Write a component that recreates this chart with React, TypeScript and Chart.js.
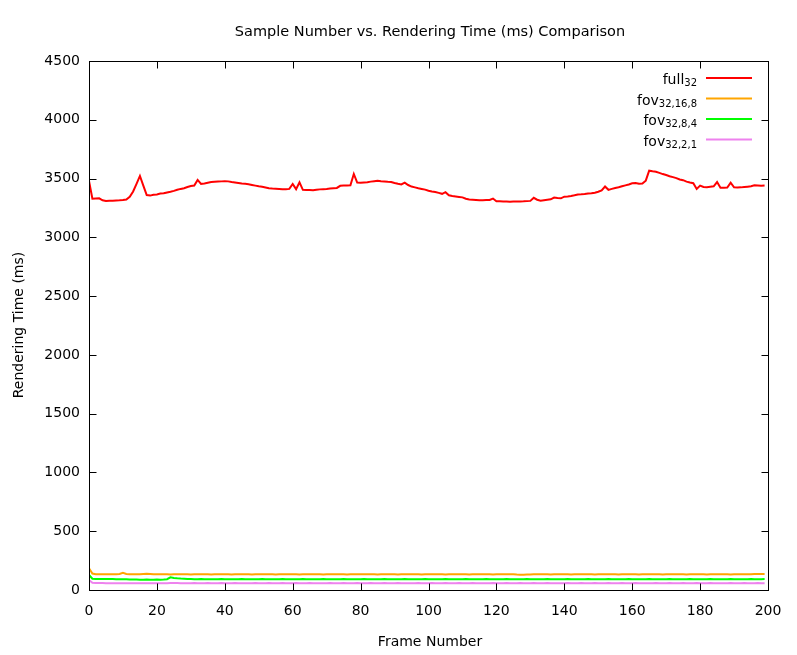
import React, { useEffect, useRef } from "react";
import { Chart, registerables } from "chart.js";

Chart.register(...registerables);

const TITLE = "Sample Number vs. Rendering Time (ms) Comparison";
const X_TITLE = "Frame Number";
const Y_TITLE = "Rendering Time (ms)";
const X_TICKS = [0, 20, 40, 60, 80, 100, 120, 140, 160, 180, 200];
const Y_TICKS = [0, 500, 1000, 1500, 2000, 2500, 3000, 3500, 4000, 4500];

const SERIES_NAMES = [
  { base: "full", sub: "32" },
  { base: "fov", sub: "32,16,8" },
  { base: "fov", sub: "32,8,4" },
  { base: "fov", sub: "32,2,1" },
];
const SERIES_COLORS = ["#ff0000", "#ffa500", "#00ff00", "#ee82ee"];

const full32 = [
  3480, 3328, 3330, 3332, 3315, 3310, 3312, 3312, 3314, 3315,
  3318, 3322, 3345, 3390, 3455, 3522, 3440, 3360, 3355, 3362,
  3365, 3372, 3375, 3382, 3388, 3395, 3405, 3412, 3418, 3428,
  3436, 3440, 3488, 3455, 3458, 3465, 3470, 3472, 3474, 3476,
  3478, 3476, 3470, 3466, 3462, 3458, 3455, 3452, 3446, 3440,
  3434, 3430, 3424, 3418, 3415, 3414, 3412, 3410, 3410, 3412,
  3454, 3410, 3468, 3404, 3403, 3402, 3400, 3404, 3408, 3410,
  3412, 3416, 3418, 3420, 3438, 3440, 3440, 3442, 3539, 3466,
  3464, 3467, 3468, 3474, 3478, 3482, 3478, 3475, 3472, 3470,
  3462, 3455, 3450, 3465, 3445, 3432, 3425, 3418, 3412, 3406,
  3396, 3390, 3386, 3378, 3370, 3384, 3358, 3352, 3348, 3344,
  3340, 3328, 3322, 3320, 3318, 3316, 3316, 3317, 3318, 3330,
  3307, 3306, 3305, 3304, 3303, 3304, 3304, 3305, 3306, 3308,
  3310, 3336, 3320, 3312, 3316, 3320, 3323, 3338, 3334, 3332,
  3346, 3348, 3352, 3358, 3365, 3366, 3368, 3372, 3375, 3380,
  3388, 3400, 3432, 3404, 3412, 3420, 3426, 3434, 3442, 3450,
  3460, 3462, 3455, 3458, 3482, 3567, 3562, 3558, 3548, 3538,
  3530, 3520, 3512, 3504, 3492, 3486, 3474, 3466, 3460, 3412,
  3440, 3428, 3426, 3430, 3434, 3470, 3422, 3422, 3424, 3465,
  3426, 3424, 3425, 3428, 3431, 3434, 3442, 3440, 3438, 3440,
];

const fov32_16_8 = [
  185, 140, 134, 133, 133, 133, 134, 133, 135, 137,
  147, 137, 134, 133, 133, 134, 136, 138, 136, 134,
  133, 133, 134, 133, 132, 133, 133, 134, 133, 133,
  132, 133, 133, 134, 133, 133, 132, 133, 134, 133,
  133, 133, 132, 133, 133, 134, 133, 133, 132, 133,
  133, 133, 134, 133, 133, 132, 133, 133, 134, 133,
  133, 133, 132, 133, 133, 134, 133, 133, 133, 132,
  133, 133, 134, 133, 133, 133, 132, 133, 134, 133,
  133, 133, 133, 134, 133, 132, 133, 133, 134, 133,
  133, 132, 133, 133, 133, 134, 133, 133, 132, 133,
  133, 134, 133, 133, 133, 132, 133, 133, 134, 133,
  133, 133, 132, 133, 133, 134, 133, 133, 133, 132,
  133, 133, 134, 133, 133, 133, 131, 130, 130, 131,
  132, 133, 134, 133, 133, 133, 132, 133, 134, 133,
  133, 133, 132, 133, 133, 134, 133, 133, 133, 132,
  133, 133, 134, 133, 133, 133, 132, 133, 134, 133,
  133, 133, 132, 133, 133, 134, 133, 133, 133, 132,
  133, 133, 134, 133, 133, 133, 132, 133, 134, 133,
  133, 133, 132, 133, 133, 134, 133, 133, 133, 132,
  133, 133, 134, 133, 134, 135, 136, 136, 137, 137,
];

const fov32_8_4 = [
  128, 96, 94, 93, 93, 94, 93, 93, 92, 92,
  92, 91, 90, 89, 89, 88, 88, 89, 88, 88,
  89, 88, 89, 92, 108, 102, 99, 97, 96, 94,
  93, 92, 92, 93, 92, 92, 91, 92, 92, 93,
  92, 92, 91, 92, 92, 93, 92, 92, 91, 92,
  92, 93, 92, 92, 91, 92, 92, 93, 92, 92,
  91, 92, 92, 93, 92, 92, 91, 92, 92, 93,
  92, 92, 91, 92, 92, 93, 92, 92, 91, 92,
  92, 93, 92, 92, 91, 92, 92, 93, 92, 92,
  91, 92, 92, 93, 92, 92, 91, 92, 92, 93,
  92, 92, 91, 92, 92, 93, 92, 92, 91, 92,
  92, 93, 92, 92, 91, 92, 92, 93, 92, 92,
  91, 92, 92, 93, 92, 92, 91, 92, 92, 93,
  92, 92, 91, 92, 92, 93, 92, 92, 91, 92,
  92, 93, 92, 92, 91, 92, 92, 93, 92, 92,
  91, 92, 92, 93, 92, 92, 91, 92, 92, 93,
  92, 92, 91, 92, 92, 93, 92, 92, 91, 92,
  92, 93, 92, 92, 91, 92, 92, 93, 92, 92,
  91, 92, 92, 93, 92, 92, 91, 92, 92, 93,
  92, 92, 91, 92, 92, 93, 92, 92, 92, 93,
];

const fov32_2_1 = [
  85, 62, 60, 59, 59, 58, 58, 58, 58, 58,
  58, 58, 57, 57, 57, 57, 57, 57, 57, 58,
  58, 58, 58, 58, 59, 59, 59, 58, 58, 58,
  58, 59, 58, 58, 58, 59, 58, 58, 58, 59,
  58, 58, 58, 59, 58, 58, 57, 58, 58, 59,
  58, 58, 58, 59, 58, 58, 58, 59, 58, 58,
  58, 59, 58, 58, 58, 59, 58, 58, 57, 58,
  58, 59, 58, 58, 58, 59, 58, 58, 58, 59,
  58, 58, 58, 59, 58, 58, 58, 59, 58, 58,
  58, 59, 58, 58, 57, 58, 58, 59, 58, 58,
  58, 59, 58, 58, 58, 59, 58, 58, 58, 59,
  58, 58, 58, 59, 58, 58, 57, 58, 58, 59,
  58, 58, 58, 59, 58, 58, 58, 59, 58, 58,
  58, 59, 58, 58, 58, 59, 58, 58, 57, 58,
  58, 59, 58, 58, 58, 59, 58, 58, 58, 59,
  58, 58, 58, 59, 58, 58, 58, 59, 58, 58,
  58, 59, 58, 58, 57, 58, 58, 59, 58, 58,
  58, 59, 58, 58, 58, 59, 58, 58, 58, 59,
  58, 58, 58, 59, 58, 58, 57, 58, 58, 59,
  58, 58, 58, 59, 58, 58, 58, 59, 58, 58,
];

const SERIES = [full32, fov32_16_8, fov32_8_4, fov32_2_1];
const FONT = "'DejaVu Sans', sans-serif";

const decorPlugin = {
  id: "gnuplotDecor",
  afterDatasetsDraw(chart: any) {
    const { ctx, chartArea } = chart;
    const xs = chart.scales.x;
    const ys = chart.scales.y;
    const L = Math.round(chartArea.left) + 0.5;
    const R = Math.round(chartArea.right) + 0.5;
    const T = Math.round(chartArea.top) + 0.5;
    const B = Math.round(chartArea.bottom) + 0.5;
    ctx.save();
    ctx.strokeStyle = "#000";
    ctx.lineWidth = 1;
    ctx.beginPath();
    const tl = 7;
    X_TICKS.forEach((v) => {
      const px = Math.round(xs.getPixelForValue(v)) + 0.5;
      ctx.moveTo(px, B);
      ctx.lineTo(px, B - tl);
      ctx.moveTo(px, T);
      ctx.lineTo(px, T + tl);
    });
    Y_TICKS.forEach((v) => {
      const py = Math.round(ys.getPixelForValue(v)) + 0.5;
      ctx.moveTo(L, py);
      ctx.lineTo(L + tl, py);
      ctx.moveTo(R, py);
      ctx.lineTo(R - tl, py);
    });
    ctx.stroke();
    ctx.strokeRect(L, T, R - L, B - T);

    // titles
    ctx.fillStyle = "#000";
    ctx.textAlign = "center";
    ctx.textBaseline = "alphabetic";
    ctx.font = `14.5px ${FONT}`;
    ctx.fillText(TITLE, 430, 36);
    ctx.font = `14px ${FONT}`;
    ctx.fillText(X_TITLE, 430, 646);
    ctx.save();
    ctx.translate(23, 325);
    ctx.rotate(-Math.PI / 2);
    ctx.fillText(Y_TITLE, 0, 0);
    ctx.restore();

    // legend
    const textRight = 697;
    const rowY = [78, 98.5, 119, 139.5];
    SERIES_NAMES.forEach((n, i) => {
      const y = rowY[i];
      ctx.font = `10px ${FONT}`;
      const subW = ctx.measureText(n.sub).width;
      ctx.textAlign = "left";
      ctx.fillText(n.sub, textRight - subW, y + 8);
      ctx.font = `14px ${FONT}`;
      ctx.textAlign = "right";
      ctx.fillText(n.base, textRight - subW, y + 6);
      ctx.strokeStyle = SERIES_COLORS[i];
      ctx.lineWidth = 2;
      ctx.beginPath();
      ctx.moveTo(706, y);
      ctx.lineTo(752, y);
      ctx.stroke();
    });
    ctx.restore();
  },
};

export default function App() {
  const ref = useRef<HTMLCanvasElement>(null);
  useEffect(() => {
    const canvas = ref.current!;
    const chart = new Chart(canvas, {
      type: "line",
      data: {
        datasets: SERIES.map((s, i) => ({
          label: SERIES_NAMES[i].base + SERIES_NAMES[i].sub,
          data: s.map((v, j) => ({ x: j, y: v })),
          borderColor: SERIES_COLORS[i],
          backgroundColor: SERIES_COLORS[i],
          borderWidth: 2,
          pointRadius: 0,
          tension: 0,
          fill: false,
        })),
      },
      plugins: [decorPlugin],
      options: {
        animation: false,
        responsive: false,
        maintainAspectRatio: false,
        layout: { padding: { top: 61, right: 29, left: 0, bottom: 0 } },
        plugins: { legend: { display: false }, title: { display: false }, tooltip: { enabled: false } },
        scales: {
          x: {
            type: "linear",
            min: 0,
            max: 200,
            afterFit: (s: any) => { s.height = 65; },
            afterBuildTicks: (s: any) => { s.ticks = X_TICKS.map((v) => ({ value: v })); },
            grid: { display: false, drawTicks: false },
            border: { display: false },
            ticks: {
              padding: 13,
              color: "#000",
              font: { family: FONT, size: 14 },
              maxRotation: 0,
              autoSkip: false,
              callback: (v: any) => String(v),
            },
          },
          y: {
            type: "linear",
            min: 0,
            max: 4500,
            afterFit: (s: any) => { s.width = 89; },
            afterBuildTicks: (s: any) => { s.ticks = Y_TICKS.map((v) => ({ value: v })); },
            grid: { display: false, drawTicks: false },
            border: { display: false },
            ticks: {
              padding: 9,
              color: "#000",
              font: { family: FONT, size: 14 },
              callback: (v: any) => String(v),
            },
          },
        },
      },
    });
    return () => chart.destroy();
  }, []);
  return (
    <div style={{ position: "absolute", left: 0, top: 0, width: 797, height: 655, background: "#fff" }}>
      <canvas ref={ref} width={797} height={655} style={{ display: "block" }} />
    </div>
  );
}
